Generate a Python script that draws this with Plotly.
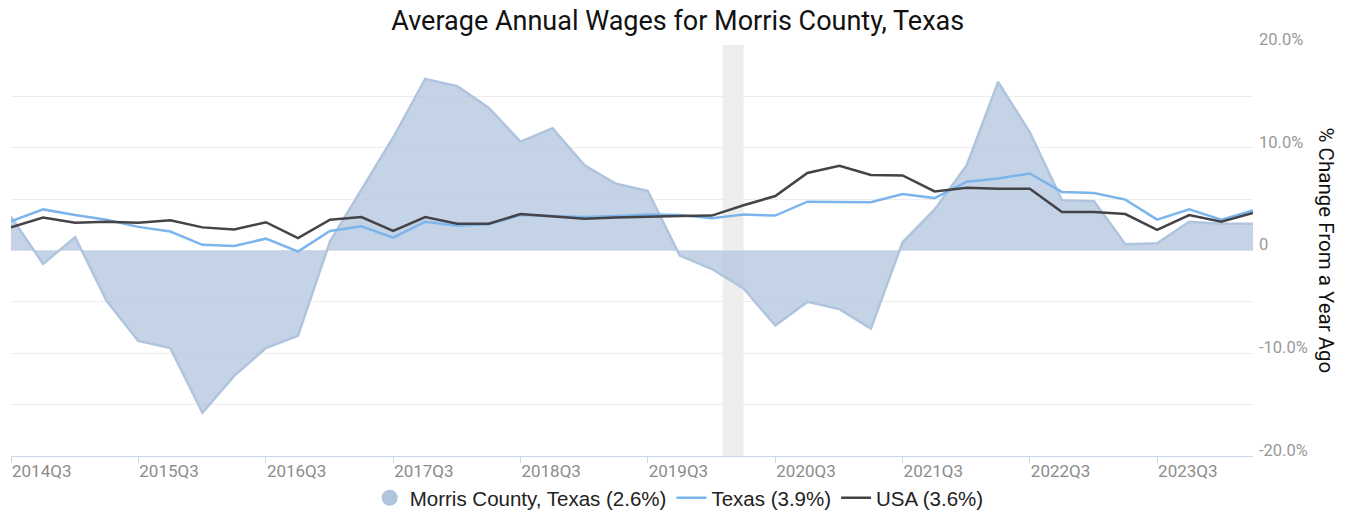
import plotly.graph_objects as go
import pandas as pd

# Quarterly dates 2014Q3 .. 2024Q2
quarters = pd.date_range("2014-07-01", periods=40, freq="QS").strftime("%Y-%m-%d").tolist()

morris = [3.3, -1.3, 1.3, -4.9, -8.8, -9.5, -15.8, -12.2, -9.5, -8.3,
          0.9, 5.9, 11.0, 16.7, 16.0, 13.9, 10.6, 11.9, 8.3, 6.5,
          5.8, -0.5, -1.8, -3.7, -7.3, -5.0, -5.7, -7.6, 0.8, 4.0,
          8.3, 16.4, 11.5, 4.9, 4.8, 0.6, 0.7, 2.8, 2.6, 2.6]

texas = [2.85, 4.0, 3.45, 3.0, 2.3, 1.85, 0.55, 0.45, 1.15, -0.1,
         1.9, 2.35, 1.25, 2.8, 2.4, 2.55, 3.45, 3.35, 3.25, 3.35,
         3.5, 3.45, 3.15, 3.5, 3.4, 4.75, 4.75, 4.7, 5.5, 5.1,
         6.7, 7.0, 7.5, 5.7, 5.6, 4.95, 3.0, 4.0, 3.0, 3.9]

usa = [2.25, 3.2, 2.7, 2.8, 2.7, 2.95, 2.25, 2.05, 2.75, 1.2,
       3.0, 3.25, 1.9, 3.25, 2.6, 2.6, 3.55, 3.35, 3.1, 3.2,
       3.3, 3.35, 3.4, 4.4, 5.3, 7.55, 8.25, 7.35, 7.3, 5.75,
       6.1, 6.0, 6.0, 3.75, 3.75, 3.55, 2.0, 3.45, 2.8, 3.65]

tick_dates = [f"{y}-07-01" for y in range(2014, 2024)]
tick_text = [f"{y}Q3" for y in range(2014, 2024)]

y_tickvals = [-20, -10, 0, 10, 20]
y_ticktext = ["-20.0%", "-10.0%", "0", "10.0%", "20.0%"]
y_minor = [-15, -5, 5, 15]

recession = ("2020-02-01", "2020-04-01")

names = ["Morris County, Texas (2.6%)", "Texas (3.9%)", "USA (3.6%)"]

W, H = 1346, 516

fig = go.Figure()

fig.add_trace(go.Scatter(
    x=quarters, y=morris, mode="lines", fill="tozeroy",
    line=dict(color="#b0c4de", width=2.5),
    fillcolor="rgba(176,196,222,0.75)",
    name=names[0], showlegend=False, legendgroup="m"))
# legend entry for the area series (circle symbol)
fig.add_trace(go.Scatter(
    x=[None], y=[None], mode="markers",
    marker=dict(symbol="circle", size=20, color="#b0c4de"),
    name=names[0], legendgroup="m"))
fig.add_trace(go.Scatter(
    x=quarters, y=texas, mode="lines",
    line=dict(color="#7cb5ec", width=2.5), name=names[1]))
fig.add_trace(go.Scatter(
    x=quarters, y=usa, mode="lines",
    line=dict(color="#434348", width=2.5), name=names[2]))

fig.add_shape(type="rect", xref="x", yref="paper",
              x0=recession[0], x1=recession[1], y0=0, y1=1,
              fillcolor="#eeeeee", line=dict(width=0), layer="below")

fig.add_annotation(
    text="% Change From a Year Ago", xref="paper", yref="paper",
    x=1.0, y=0.5, xshift=73, xanchor="center", yanchor="middle",
    textangle=90, showarrow=False,
    font=dict(family="Roboto", size=20.5, color="#111111"))

fig.update_layout(
    width=W, height=H,
    margin=dict(l=11, r=93, t=45, b=60, autoexpand=False),
    paper_bgcolor="white", plot_bgcolor="white",
    title=dict(text="Average Annual Wages for Morris County, Texas",
               x=0.5035, xanchor="center", xref="container",
               y=1 - 21 / H, yanchor="middle",
               font=dict(family="Roboto", size=27, color="#111111")),
    legend=dict(orientation="h", x=0.538, xanchor="center",
                y=-0.102, yanchor="middle",
                font=dict(family="Liberation Sans", size=20.5, color="#222222"),
                itemsizing="trace", tracegroupgap=0),
    showlegend=True,
    hovermode=False,
)

fig.update_xaxes(
    type="date", range=[quarters[0], quarters[-1]],
    tickvals=tick_dates, ticktext=tick_text,
    ticklabelposition="outside right",
    ticks="outside", ticklen=6, tickcolor="#ccd6eb",
    showline=True, linecolor="#ccd6eb", linewidth=1,
    showgrid=False, zeroline=False,
    tickfont=dict(family="Roboto", size=17, color="#8c8c8c"))

fig.update_yaxes(
    side="right", range=[-20, 20],
    tickvals=y_tickvals, ticktext=y_ticktext,
    ticklabelstandoff=5, ticklabelshift=-6,
    showgrid=True, gridcolor="#ededed", gridwidth=1,
    zeroline=True, zerolinecolor="#ededed", zerolinewidth=1,
    minor=dict(tickvals=y_minor, showgrid=True, gridcolor="#ededed", gridwidth=1),
    showline=False, ticks="",
    tickfont=dict(family="Roboto", size=16.5, color="#999999"))

# remove the page's default 8px body margin so the figure fills the window
fig.write_html("out.html", config={"displayModeBar": False},
               post_script="document.body.style.margin='0px';")
